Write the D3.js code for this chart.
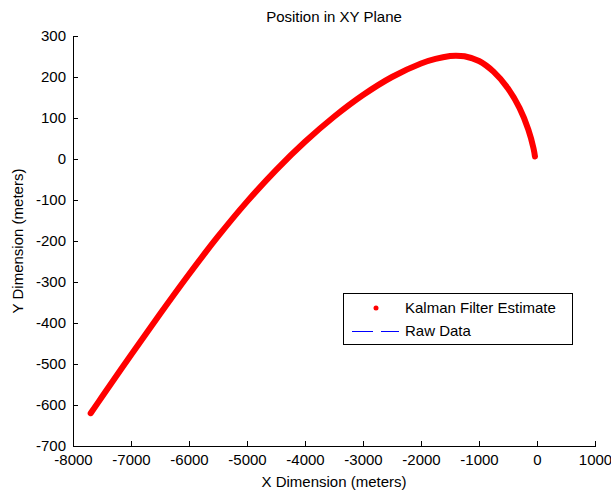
<!DOCTYPE html>
<html>
<head>
<meta charset="utf-8">
<script src="https://cdn.jsdelivr.net/npm/d3@7"></script>
<style>
  html, body { margin: 0; padding: 0; background: #fff; }
  text { font-family: "Liberation Sans", Arial, sans-serif; fill: #000; }
</style>
</head>
<body>
<svg id="chart" width="611" height="491"></svg>
<script>
// Kalman filter position estimate (meters), ordered from the far end back to the launch point
const estX = [-7695, -7500, -7000, -6500, -6000, -5500, -5000, -4500, -4000, -3500, -3000,
              -2500, -2000, -1750, -1500, -1400, -1250, -1000, -750, -500, -300, -150, -60, -35];
const estY = [-620, -580, -478, -378, -281, -189, -104, -27, 42, 103, 156,
              200, 233, 244, 251, 252, 250.5, 239, 213, 172, 124, 72, 26, 6];

const xTicks = [-8000, -7000, -6000, -5000, -4000, -3000, -2000, -1000, 0, 1000];
const yTicks = [300, 200, 100, 0, -100, -200, -300, -400, -500, -600, -700];
const legendLabels = ["Kalman Filter Estimate", "Raw Data"];

const svg = d3.select("#chart");
const W = 611, H = 491;
const margin = { left: 73, right: 16, top: 36, bottom: 45 };

const x = d3.scaleLinear().domain([-8000, 1000]).range([margin.left, W - margin.right]);
const y = d3.scaleLinear().domain([-700, 300]).range([H - margin.bottom, margin.top]);

const FS = "15px";
const plain = d => String(d);   // ASCII hyphen for negatives

// Axes with inward ticks, left and bottom only
const xAxis = d3.axisBottom(x).tickValues(xTicks).tickFormat(plain)
  .tickSizeInner(-5).tickSizeOuter(0).tickPadding(8);
const yAxis = d3.axisLeft(y).tickValues(yTicks).tickFormat(plain)
  .tickSizeInner(-5).tickSizeOuter(0).tickPadding(7);

const gx = svg.append("g").attr("transform", `translate(0,${H - margin.bottom})`).call(xAxis);
const gy = svg.append("g").attr("transform", `translate(${margin.left},0)`).call(yAxis);
[gx, gy].forEach(g => {
  g.selectAll("path, line").attr("stroke", "#000").attr("stroke-width", 1).attr("shape-rendering", "crispEdges");
  g.selectAll("text").style("font-size", FS).style("font-family", "'Liberation Sans', Arial, sans-serif").attr("fill", "#000");
});

// Estimated trajectory, drawn as a dense dotted track
const pts = estX.map((v, i) => [v, estY[i]]);
svg.append("path")
  .datum(pts)
  .attr("fill", "none")
  .attr("stroke", "#ff0000")
  .attr("stroke-width", 6)
  .attr("stroke-linecap", "round")
  .attr("stroke-linejoin", "round")
  .attr("d", d3.line().x(d => x(d[0])).y(d => y(d[1])).curve(d3.curveCatmullRom));

// Titles
svg.append("text").attr("x", (margin.left + W - margin.right) / 2).attr("y", 22)
  .attr("text-anchor", "middle").style("font-size", FS).text("Position in XY Plane");
svg.append("text").attr("x", (margin.left + W - margin.right) / 2).attr("y", 487)
  .attr("text-anchor", "middle").style("font-size", FS).text("X Dimension (meters)");
svg.append("text")
  .attr("transform", `translate(23,${(margin.top + H - margin.bottom) / 2}) rotate(-90)`)
  .attr("text-anchor", "middle").style("font-size", FS).text("Y Dimension (meters)");

// Legend
const lg = svg.append("g");
lg.append("rect").attr("x", 343.5).attr("y", 293.5).attr("width", 229).attr("height", 51)
  .attr("fill", "#fff").attr("stroke", "#000").attr("stroke-width", 1);
lg.append("circle").attr("cx", 376).attr("cy", 308).attr("r", 2.5).attr("fill", "#ff0000");
lg.append("line").attr("x1", 352).attr("x2", 399).attr("y1", 331.5).attr("y2", 331.5)
  .attr("stroke", "#0000ff").attr("stroke-width", 1).attr("stroke-dasharray", "21,8");
lg.selectAll("text.lg").data(legendLabels).enter().append("text")
  .attr("class", "lg")
  .attr("x", 405).attr("y", (d, i) => 308 + i * 23)
  .attr("dy", "0.35em")
  .style("font-size", FS).text(d => d);
</script>
</body>
</html>
